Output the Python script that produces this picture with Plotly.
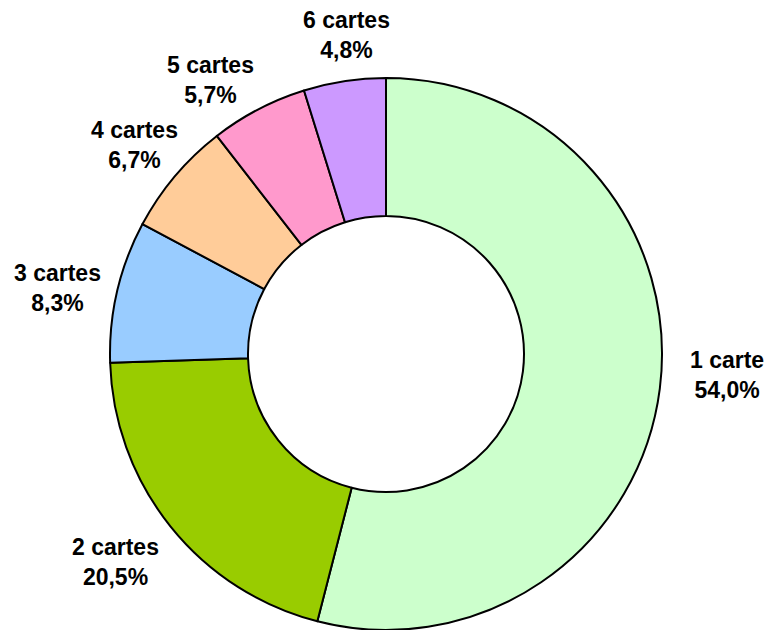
import math
import plotly.graph_objects as go

categories = ["1 carte", "2 cartes", "3 cartes", "4 cartes", "5 cartes", "6 cartes"]
values = [54.0, 20.5, 8.3, 6.7, 5.7, 4.8]
colors = ["#CCFFCC", "#99CC00", "#99CCFF", "#FFCC99", "#FF99CC", "#CC99FF"]

# label placement tweaks (pixels)
label_xshift = [9, -9, -2, 5, -21, 11]
label_yshift = [21, 1, -10, -7, -23, -12]

W, H = 767, 622  # page body adds 8px margin
ML, MR, MT, MB = 101, 112, 70, 0
PW, PH = W - ML - MR, H - MT - MB
RF = 335

fig = go.Figure(go.Pie(
    labels=categories,
    values=values,
    hole=0.5,
    sort=False,
    direction="clockwise",
    rotation=0,
    marker=dict(colors=colors, line=dict(color="black", width=2)),
    textinfo="none",
    hoverinfo="label+percent",
    showlegend=False,
))

total = sum(values)
cum = 0.0
annotations = []
for i, (c, v) in enumerate(zip(categories, values)):
    mid = (cum + v / 2) / total * 2 * math.pi
    cum += v
    px = 0.5 + RF * math.sin(mid) / PW
    py = 0.5 + RF * math.cos(mid) / PH
    pct = f"{v:.1f}%".replace(".", ",")
    txt = f"<b>{c}</b><br><b>{pct}</b>"
    annotations.append(dict(
        x=px, y=py, xref="paper", yref="paper", text=txt, showarrow=False,
        xanchor="center", yanchor="middle", align="center",
        xshift=label_xshift[i], yshift=label_yshift[i],
        font=dict(family="Liberation Sans, Arial, sans-serif", size=23, color="black"),
    ))

fig.update_layout(
    width=W, height=H,
    margin=dict(l=ML, r=MR, t=MT, b=MB),
    paper_bgcolor="white", plot_bgcolor="white",
    annotations=annotations,
    font=dict(family="Liberation Sans, Arial, sans-serif"),
)

fig.write_html("out.html")
